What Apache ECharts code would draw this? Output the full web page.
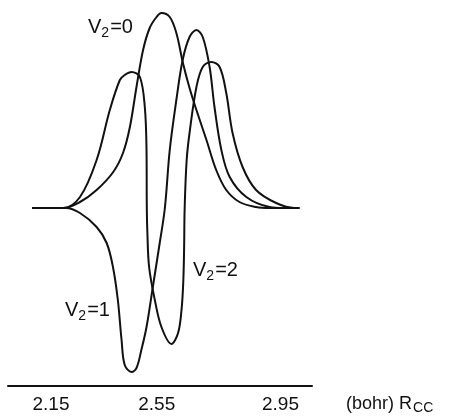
<!DOCTYPE html>
<html>
<head>
<meta charset="utf-8">
<script src="https://cdn.jsdelivr.net/npm/echarts@6/dist/echarts.min.js"></script>
<style>
  html, body { margin: 0; padding: 0; background: #fff; }
  #chart { width: 449px; height: 417px; }
</style>
</head>
<body>
<div id="chart"></div>
<script>
// vibrational wavefunctions along R_cc (bohr), amplitude in arbitrary units
var tickValues = [2.15, 2.55, 2.95];

var v0 = [
    [2.084, 0], [2.192, 0], [2.251, 0.06], [2.309, 0.18], [2.367, 0.36],
    [2.401, 0.55], [2.425, 0.81], [2.448, 1.21], [2.471, 1.58], [2.494, 1.80],
    [2.518, 1.91], [2.535, 1.95], [2.564, 1.91], [2.587, 1.75], [2.610, 1.45],
    [2.633, 1.20], [2.657, 0.98], [2.692, 0.68], [2.726, 0.38], [2.761, 0.18],
    [2.807, 0.06], [2.865, 0.01], [2.912, 0], [3.016, 0]
];

var v1 = [
    [2.084, 0], [2.202, 0], [2.251, -0.05], [2.309, -0.19], [2.344, -0.35],
    [2.366, -0.59], [2.383, -0.92], [2.396, -1.32], [2.407, -1.57], [2.431, -1.64],
    [2.448, -1.60], [2.465, -1.42], [2.483, -1.19], [2.505, -0.79], [2.529, -0.35],
    [2.547, 0], [2.564, 0.58], [2.587, 1.08], [2.609, 1.48], [2.633, 1.71],
    [2.657, 1.78], [2.679, 1.71], [2.703, 1.41], [2.720, 1.01], [2.744, 0.58],
    [2.773, 0.31], [2.831, 0.11], [2.912, 0.01], [2.964, 0], [3.016, 0]
];

var v2 = [
    [2.084, 0], [2.192, 0], [2.251, 0.11], [2.309, 0.48], [2.355, 0.98],
    [2.390, 1.28], [2.407, 1.33], [2.431, 1.36], [2.460, 1.31], [2.477, 1.01],
    [2.483, 0.58], [2.484, 0], [2.486, -0.25], [2.492, -0.59], [2.512, -0.92],
    [2.535, -1.19], [2.570, -1.36], [2.593, -1.25], [2.605, -1.02], [2.611, -0.75],
    [2.614, -0.42], [2.616, 0], [2.623, 0.48], [2.633, 0.75], [2.657, 1.21],
    [2.679, 1.41], [2.709, 1.46], [2.738, 1.41], [2.761, 1.15], [2.783, 0.75],
    [2.818, 0.41], [2.865, 0.18], [2.935, 0.05], [2.999, 0], [3.016, 0]
];

var myChart = echarts.init(document.getElementById('chart'), null, {renderer: 'canvas'});

function curve(name, data) {
    return {
        name: name,
        type: 'line',
        data: data,
        smooth: 0.35,
        showSymbol: false,
        lineStyle: {color: '#111', width: 2},
        z: 3
    };
}

function vLabel(x, y, n) {
    return {
        type: 'text',
        left: x,
        top: y,
        style: {
            text: '{v|V}{s|2}{v|=' + n + '}',
            rich: {
                v: {fontSize: 20, fontFamily: 'Liberation Sans', fill: '#111', verticalAlign: 'top', lineHeight: 22},
                s: {fontSize: 14, fontFamily: 'Liberation Sans', fill: '#111', verticalAlign: 'top', lineHeight: 22, padding: [9, 1, 0, 0]}
            }
        }
    };
}

var tickFont = {fontSize: 19, fontFamily: 'Liberation Sans', color: '#111'};

myChart.setOption({
    animation: false,
    grid: {left: 8, right: 137, top: 0, bottom: 31},
    xAxis: {
        type: 'value',
        min: 2.0,
        max: 3.06,
        splitLine: {show: false},
        axisTick: {show: false},
        axisLine: {onZero: false, lineStyle: {color: '#111', width: 2}},
        axisLabel: {
            customValues: tickValues,
            margin: 9,
            color: '#111',
            fontSize: 19,
            fontFamily: 'Liberation Sans',
            formatter: function (v) {
                // the middle label sits a bit left of its tick in the original
                return v === 2.55 ? '{m|2.55}' : '{t|' + v.toFixed(2) + '}';
            },
            rich: {
                t: tickFont,
                m: Object.assign({padding: [0, 18, 0, 0]}, tickFont)
            }
        }
    },
    yAxis: {
        type: 'value',
        min: -1.78,
        max: 2.08,
        show: false
    },
    graphic: [
        vLabel(88, 17, '0'),
        vLabel(65, 300, '1'),
        vLabel(193, 260, '2'),
        {
            type: 'text',
            left: 346,
            top: 395,
            style: {
                text: '{a|(bohr) R}{b|CC}',
                rich: {
                    a: {fontSize: 18, fontFamily: 'Liberation Sans', fill: '#111', verticalAlign: 'top', lineHeight: 20},
                    b: {fontSize: 14, fontFamily: 'Liberation Sans', fill: '#111', verticalAlign: 'top', lineHeight: 20, padding: [6, 0, 0, 1]}
                }
            }
        }
    ],
    series: [curve('v0', v0), curve('v1', v1), curve('v2', v2)]
});

window.onresize = function () {
    myChart.resize();
}
</script>
</body>
</html>
